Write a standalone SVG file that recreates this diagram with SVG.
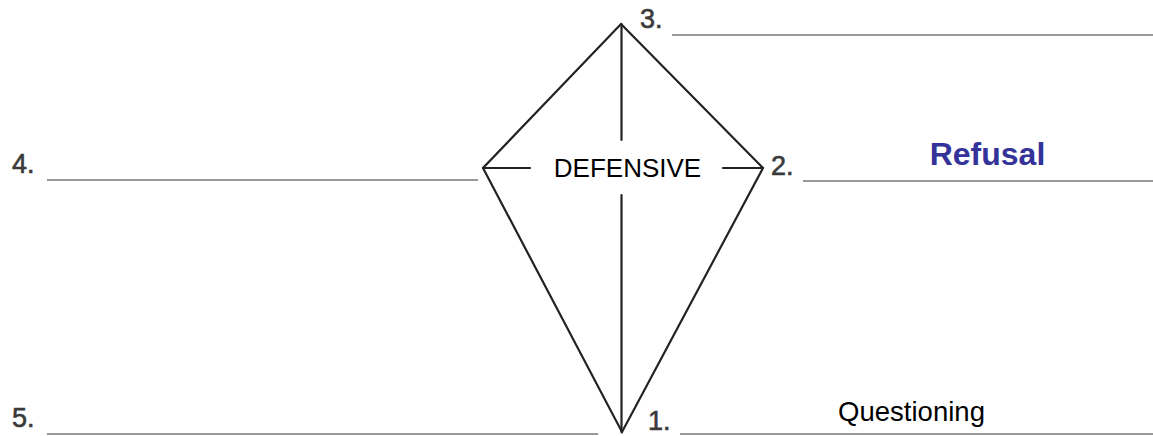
<svg xmlns="http://www.w3.org/2000/svg" width="1153" height="436" viewBox="0 0 1153 436">
<style>
.k{stroke:#222;stroke-width:2.2;fill:none;stroke-linecap:round}
.bl{stroke:#999;stroke-width:1.8}
.num{font-family:"Liberation Sans",Arial,sans-serif;font-size:27px;fill:#3a3a3a;stroke:#3a3a3a;stroke-width:0.6}
.lab{font-family:"Liberation Sans",Arial,sans-serif;fill:#000}
</style>
<rect width="1153" height="436" fill="#fff"/>
<g id="connectors">
<polygon class="k" points="621,24 763,168 622,432 483,168" stroke-linejoin="miter"/>
<line class="k" x1="621.5" y1="24" x2="621.5" y2="140"/>
<line class="k" x1="621.5" y1="195" x2="621.5" y2="432"/>
<line class="k" x1="483" y1="168" x2="530" y2="168"/>
<line class="k" x1="723" y1="168" x2="763" y2="168"/>
</g>
<g id="blank3"><text class="num" x="640" y="28">3.</text><line class="bl" x1="672" y1="35" x2="1153" y2="35"/></g>
<g id="blank2"><text class="num" x="771" y="175">2.</text><line class="bl" x1="803" y1="181" x2="1153" y2="181"/></g>
<g id="blank4"><text class="num" x="12" y="173">4.</text><line class="bl" x1="47" y1="180" x2="478" y2="180"/></g>
<g id="blank5"><text class="num" x="12" y="427">5.</text><line class="bl" x1="47" y1="434" x2="598" y2="434"/></g>
<g id="blank1"><text class="num" x="648" y="430">1.</text><line class="bl" x1="680" y1="434" x2="1153" y2="434"/></g>
<g id="defensive"><text class="lab" x="627.5" y="177" font-size="26" text-anchor="middle">DEFENSIVE</text></g>
<g id="refusal"><text x="987.5" y="165" font-family="'Liberation Sans',Arial,sans-serif" font-weight="bold" font-size="32" fill="#333399" text-anchor="middle">Refusal</text></g>
<g id="questioning"><text class="lab" x="911.5" y="421" font-size="28" text-anchor="middle" textLength="147" lengthAdjust="spacingAndGlyphs">Questioning</text></g>
</svg>
